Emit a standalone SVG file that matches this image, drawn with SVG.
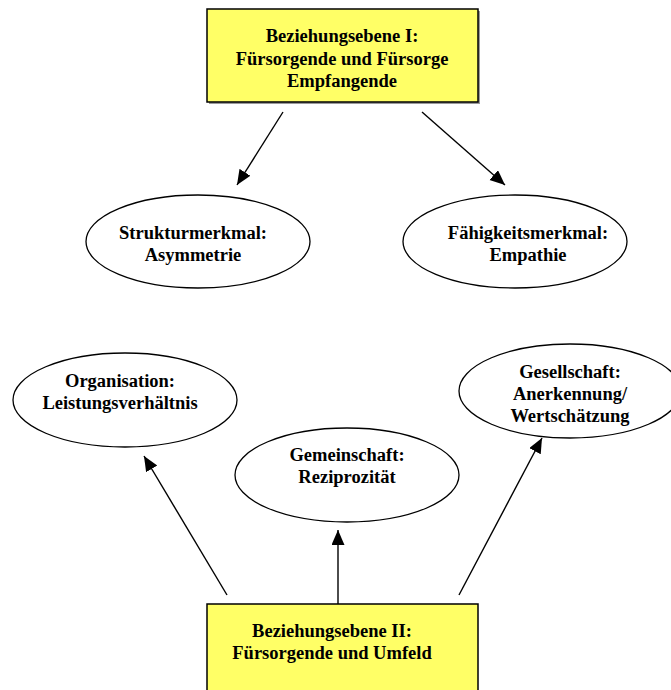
<svg xmlns="http://www.w3.org/2000/svg" width="671" height="690" viewBox="0 0 671 690">
<style>
  .box { fill: #ffff66; stroke: #000; stroke-width: 1.5; }
  .shadow { fill: #9a9a9a; }
  .ell { fill: #fff; stroke: #000; stroke-width: 1.3; }
  .t { font-family: "Liberation Serif", "Times New Roman", serif; font-weight: bold; font-size: 18.5px; fill: #000; text-anchor: middle; }
  .con line { stroke: #000; stroke-width: 1.4; marker-end: url(#arr); }
</style>
<defs>
  <marker id="arr" markerUnits="userSpaceOnUse" markerWidth="16" markerHeight="14" refX="15" refY="6.5" orient="auto">
    <path d="M0,0 L15,6.5 L0,13 z" fill="#000"/>
  </marker>
</defs>
<rect width="671" height="690" fill="#fff"/>
<g id="ebene1">
  <rect class="shadow" x="209" y="11" width="271" height="93"/>
  <rect class="box" x="207" y="9" width="271" height="93"/>
  <text class="t" x="342" y="42">Beziehungsebene I:</text>
  <text class="t" x="342" y="64.5">Fürsorgende und Fürsorge</text>
  <text class="t" x="342" y="87">Empfangende</text>
</g>
<g id="struktur">
  <ellipse class="ell" cx="198" cy="241.5" rx="112" ry="46.5"/>
  <text class="t" x="193" y="239">Strukturmerkmal:</text>
  <text class="t" x="193" y="261">Asymmetrie</text>
</g>
<g id="faehigkeit">
  <ellipse class="ell" cx="515" cy="241.5" rx="112" ry="46.5"/>
  <text class="t" x="528" y="239">Fähigkeitsmerkmal:</text>
  <text class="t" x="528" y="261">Empathie</text>
</g>
<g id="organisation">
  <ellipse class="ell" cx="125" cy="400" rx="112" ry="47"/>
  <text class="t" x="120" y="387">Organisation:</text>
  <text class="t" x="120" y="409">Leistungsverhältnis</text>
</g>
<g id="gemeinschaft">
  <ellipse class="ell" cx="347" cy="475" rx="112" ry="47"/>
  <text class="t" x="347" y="461">Gemeinschaft:</text>
  <text class="t" x="347" y="483">Reziprozität</text>
</g>
<g id="gesellschaft">
  <ellipse class="ell" cx="570" cy="391" rx="111" ry="47"/>
  <text class="t" x="570" y="378">Gesellschaft:</text>
  <text class="t" x="570" y="400">Anerkennung/</text>
  <text class="t" x="570" y="422">Wertschätzung</text>
</g>
<g id="ebene2">
  <rect class="box" x="207" y="604" width="271" height="100"/>
  <text class="t" x="332" y="637">Beziehungsebene II:</text>
  <text class="t" x="332" y="659">Fürsorgende und Umfeld</text>
</g>
<g id="connectors" class="con">
  <line x1="283" y1="112" x2="237" y2="185"/>
  <line x1="422" y1="112" x2="505" y2="185"/>
  <line x1="227" y1="595" x2="144" y2="456"/>
  <line x1="338" y1="604" x2="338" y2="530"/>
  <line x1="459" y1="595" x2="542" y2="438"/>
</g>
</svg>
